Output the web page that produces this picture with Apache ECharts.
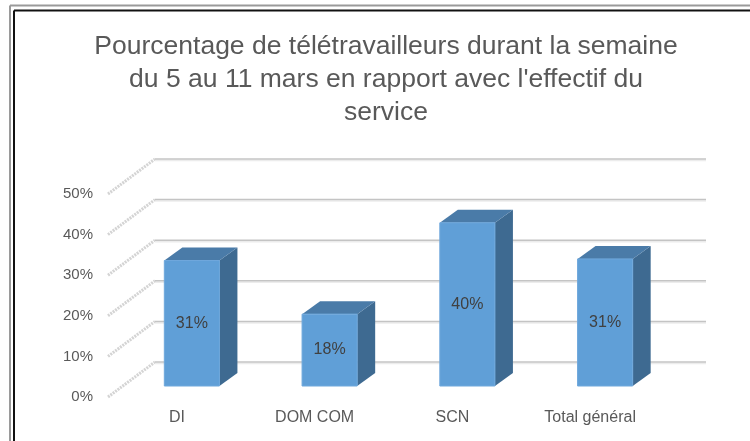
<!DOCTYPE html>
<html>
<head>
<meta charset="utf-8">
<script src="https://cdn.jsdelivr.net/npm/echarts@6/dist/echarts.min.js"></script>
<style>
  html, body { margin: 0; padding: 0; background: #fff; }
  #chart { width: 750px; height: 441px; }
</style>
</head>
<body>
<div id="chart"></div>
<script>
  // donnees
  var categories = ['DI', 'DOM COM', 'SCN', 'Total général'];
  var values = [0.309, 0.177, 0.402, 0.313];
  var yTicks = [0, 0.1, 0.2, 0.3, 0.4, 0.5];
  var titleLines = [
    'Pourcentage de télétravailleurs durant la semaine',
    "du 5 au 11 mars en rapport avec l'effectif du",
    'service'
  ];

  // decalages de la perspective (pixels)
  var BAR_DX = 15, BAR_DY = -11;     // plan avant -> face avant des barres
  var BACK_DX = 47, BACK_DY = -35;   // plan avant -> mur du fond
  var DEPTH_DX = 18, DEPTH_DY = -13; // profondeur d'une barre

  var pct = function (v) { return Math.round(v * 100) + '%'; };

  var myChart = echarts.init(document.getElementById('chart'));

  myChart.setOption({
    animation: false,
    textStyle: { fontFamily: '"Liberation Sans", Arial, sans-serif' },
    graphic: [
      { type: 'line', shape: { x1: 10, y1: 5.5, x2: 750, y2: 5.5 }, style: { stroke: '#9a9a9a', lineWidth: 2 } },
      { type: 'line', shape: { x1: 10, y1: 5.5, x2: 10, y2: 441 }, style: { stroke: '#9a9a9a', lineWidth: 2 } },
      { type: 'line', shape: { x1: 14, y1: 10.5, x2: 750, y2: 10.5 }, style: { stroke: '#111', lineWidth: 2 } },
      { type: 'line', shape: { x1: 14, y1: 10.5, x2: 14, y2: 441 }, style: { stroke: '#111', lineWidth: 2 } },
      {
        type: 'text', x: 386, y: 30,
        style: {
          text: titleLines.join('\n'),
          fontSize: 26.5, lineHeight: 33,
          fontFamily: '"Liberation Sans", sans-serif',
          fill: '#595959', textAlign: 'center', textVerticalAlign: 'top'
        }
      }
    ],
    grid: { left: 108, right: 91, top: 194, height: 203 },
    xAxis: {
      type: 'category',
      data: categories,
      axisLine: { show: false },
      axisTick: { show: false },
      axisLabel: { color: '#595959', fontSize: 16, margin: 13 }
    },
    yAxis: {
      type: 'value',
      min: 0, max: 0.5, interval: 0.1,
      axisLine: { show: false },
      axisTick: { show: false },
      splitLine: { show: false },
      axisLabel: { color: '#595959', fontSize: 15, margin: 15, formatter: pct }
    },
    series: [
      {
        // quadrillage : lignes de profondeur + mur du fond
        type: 'custom',
        silent: true,
        data: yTicks.map(function (t) { return [0, t]; }),
        renderItem: function (params, api) {
          var cs = params.coordSys;
          var p = api.coord([0, api.value(1)]);
          var x0 = cs.x, y0 = p[1];
          return {
            type: 'group',
            children: [
              { type: 'line', shape: { x1: x0, y1: y0, x2: x0 + BACK_DX, y2: y0 + BACK_DY },
                style: { stroke: '#d4d4d4', lineWidth: 3, lineDash: [2, 1] } },
              { type: 'line', shape: { x1: x0 + BACK_DX, y1: y0 + BACK_DY + 1.5, x2: cs.x + cs.width + BACK_DX, y2: y0 + BACK_DY + 1.5 },
                style: { stroke: '#ececec', lineWidth: 1.5 } },
              { type: 'line', shape: { x1: x0 + BACK_DX, y1: y0 + BACK_DY, x2: cs.x + cs.width + BACK_DX, y2: y0 + BACK_DY },
                style: { stroke: '#c4c4c4', lineWidth: 1.5 } }
            ]
          };
        }
      },
      {
        // colonnes 3D
        type: 'custom',
        data: values.map(function (v, i) { return [i, v]; }),
        renderItem: function (params, api) {
          var base = api.coord([api.value(0), 0]);
          var top = api.coord([api.value(0), api.value(1)]);
          var w = api.size([1, 0])[0] * 0.4;
          var xl = base[0] + BAR_DX - w / 2, xr = xl + w;
          var yt = top[1] + BAR_DY, yb = base[1] + BAR_DY;
          return {
            type: 'group',
            children: [
              { type: 'polygon',
                shape: { points: [[xr, yt], [xr + DEPTH_DX, yt + DEPTH_DY], [xr + DEPTH_DX, yb + DEPTH_DY], [xr, yb]] },
                style: { fill: '#3e6a91' } },
              { type: 'polygon',
                shape: { points: [[xl, yt], [xl + DEPTH_DX, yt + DEPTH_DY], [xr + DEPTH_DX, yt + DEPTH_DY], [xr, yt]] },
                style: { fill: '#4a7ba8' } },
              { type: 'rect',
                shape: { x: xl, y: yt, width: w, height: yb - yt },
                style: { fill: '#609fd7', stroke: '#6fa8dc', lineWidth: 1 } },
              { type: 'text',
                x: (xl + xr) / 2, y: (yt + yb) / 2,
                style: { text: pct(api.value(1)), fill: '#404040', fontSize: 16,
                  textAlign: 'center', textVerticalAlign: 'middle' } }
            ]
          };
        }
      }
    ]
  });
</script>
</body>
</html>
